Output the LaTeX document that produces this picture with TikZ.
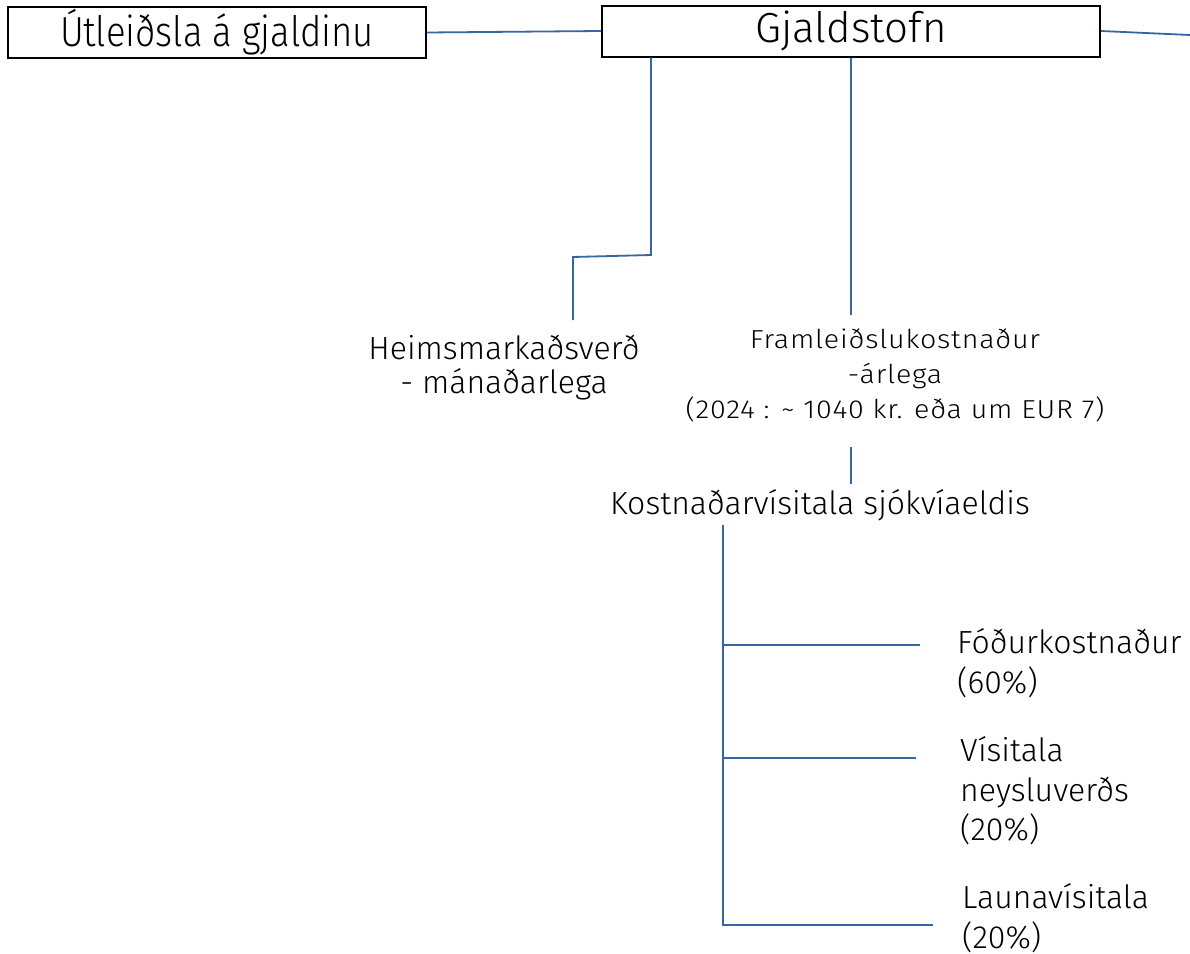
\documentclass[tikz,border=0pt]{standalone}
\usepackage{fontspec}
\setmainfont{Fira Sans}[UprightFont={* Light}]
\newfontfamily\condfont{Fira Sans}[UprightFont={* Light},FakeStretch=0.87]
\newfontfamily\smlfont{Fira Sans}[UprightFont={* Light},FakeStretch=1.1,LetterSpace=3]
\definecolor{linkblue}{HTML}{3565A5}
\tikzset{
  topbox/.style={draw=black, line width=2pt, minimum height=51pt, inner sep=0pt, font=\condfont\fontsize{42}{46}\selectfont},
  lbl/.style={inner sep=0pt, font=\fontsize{32}{34}\selectfont},
  sml/.style={inner sep=0pt, font=\smlfont\fontsize{26}{35}\selectfont},
  side/.style={inner sep=0pt, align=left, anchor=west, font=\fontsize{32}{39.5}\selectfont},
  link/.style={draw=linkblue, line width=1.8pt},
}
\begin{document}
\begin{tikzpicture}[x=1pt,y=-1pt]
\useasboundingbox (0,0) rectangle (1190,953);
\fill[white] (0,0) rectangle (1190,953);
\node[topbox, minimum width=418pt] (out) at (217,32.5) {Útleiðsla á gjaldinu};
\node[topbox, minimum width=498pt, font=\fontsize{42}{46}\selectfont] (gs) at (851,31) {Gjaldstofn};
\coordinate (rend) at (1190,35);
\draw[link] (out.east) -- (gs.west);
\draw[link] (gs.east) -- (rend);
\node[lbl, align=center] (heims) at (504,368) {Heimsmarkaðsverð\\- mánaðarlega};
\node[sml, align=center] (fram) at (895,375) {Framleiðslukostnaður\\-árlega\\(2024 : \textasciitilde{} 1040 kr. eða um EUR 7)};
\node[lbl] (kost) at (820,505) {Kostnaðarvísitala sjókvíaeldis};
\node[side] (fod) at (957,663) {Fóðurkostnaður\\(60\%)};
\node[side] (vis) at (960,791) {Vísitala\\neysluverðs\\(20\%)};
\node[side] (laun) at (962,918) {Launavísitala\\(20\%)};
\coordinate (hb) at (573,320);
\coordinate (fb) at (851,315);
\draw[link] (gs.south -| 651,0) -- (651,255) -- (573,257) -- (hb);
\draw[link] (gs.south -| fb) -- (fb);
\coordinate (k1) at (851,447);
\coordinate (k2) at (851,484);
\draw[link] (k1) -- (k2);
\coordinate (trunk) at (723,525);
\coordinate (f1) at (920,645);
\coordinate (v1) at (916,758);
\coordinate (l1) at (933,925);
\draw[link] (trunk) -- (723,925) -- (l1);
\draw[link] (723,645) -- (f1);
\draw[link] (723,758) -- (v1);
\end{tikzpicture}
\end{document}
